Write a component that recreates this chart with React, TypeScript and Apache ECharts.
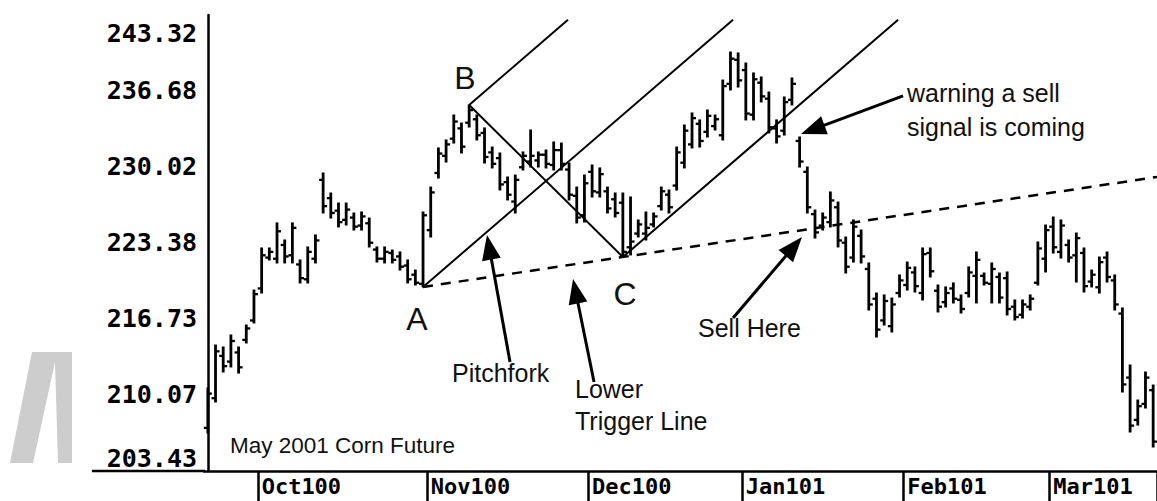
import React, { useEffect, useRef } from "react";
import * as echarts from "echarts";

// ---------- data ----------
const firstTradingDay = "2000-09-21";
const lastTradingDay = "2001-03-20";
const exchangeHolidays = ["2000-11-23", "2000-12-25", "2001-01-01", "2001-01-15", "2001-02-19"];

const monthKeys = ["2000-10", "2000-11", "2000-12", "2001-01", "2001-02", "2001-03"];
const monthLabels = ["Oct100", "Nov100", "Dec100", "Jan101", "Feb101", "Mar101"];

const yTickLabels = ["203.43", "210.07", "216.73", "223.38", "230.02", "236.68", "243.32"];
const yMin = 203.43;
const yMax = 243.32;

const highs = [
  210.69, 214.45, 214.28, 215.33, 214.28, 216.2, 219.26, 222.94, 222.94, 225.13,
  223.64, 225.13, 221.89, 223.03, 224.08, 229.5, 227.75, 226.87, 226.87, 226.0,
  226.09, 225.56, 223.03, 223.03, 222.76, 222.59, 221.89, 221.01, 226.09, 228.27,
  231.69, 232.39, 234.57, 233.87, 235.45, 234.57, 233.44, 231.77, 231.25, 229.15,
  229.32, 231.34, 233.26, 231.34, 231.51, 232.21, 232.12, 230.37, 228.27, 229.32,
  230.2, 229.94, 228.27, 227.75, 227.75, 227.4, 225.39, 226.09, 226.0, 228.27,
  228.01, 231.77, 233.7, 234.75, 234.14, 235.01, 234.57, 237.63, 240.08, 240.0,
  239.12, 238.25, 237.9, 236.58, 234.14, 236.15, 237.81, 232.65, 230.02, 226.26,
  226.0, 227.84, 226.96, 223.9, 225.39, 224.51, 221.63, 219.0, 218.83, 218.56,
  220.58, 221.71, 221.28, 222.94, 222.94, 219.7, 219.53, 219.88, 218.83, 221.28,
  222.59, 220.75, 221.63, 220.75, 220.84, 218.39, 218.39, 218.83, 223.46, 224.95,
  225.65, 225.39, 223.64, 224.25, 222.94, 221.01, 222.15, 222.59, 220.58, 217.69,
  212.7, 209.64, 212.09, 210.95,
];
const lows = [
  206.75, 209.47, 212.09, 212.53, 212.0, 214.63, 216.38, 219.0, 221.89, 221.63,
  221.63, 221.63, 219.88, 219.88, 221.63, 226.0, 225.56, 224.78, 224.95, 224.51,
  224.51, 223.03, 221.71, 221.63, 221.63, 221.01, 219.88, 219.7, 219.53, 223.9,
  229.06, 230.46, 232.12, 231.25, 233.52, 232.39, 230.37, 229.94, 228.01, 227.14,
  226.0, 229.76, 230.02, 230.02, 229.94, 229.76, 229.76, 227.14, 225.13, 225.21,
  227.4, 227.4, 226.0, 225.65, 222.15, 222.33, 223.9, 223.64, 224.78, 226.26,
  226.0, 228.01, 229.94, 231.69, 231.77, 232.65, 233.26, 232.39, 236.76, 237.02,
  234.14, 234.14, 235.71, 233.0, 232.12, 232.82, 235.45, 230.02, 226.0, 223.81,
  224.51, 224.78, 223.03, 220.75, 221.71, 221.63, 217.51, 215.15, 216.2, 215.59,
  218.65, 219.26, 219.09, 218.39, 220.4, 217.34, 217.78, 218.13, 217.25, 218.65,
  218.13, 219.7, 218.13, 218.13, 217.08, 216.64, 216.81, 217.51, 219.7, 220.84,
  222.5, 222.06, 221.71, 219.96, 219.09, 219.53, 219.0, 219.96, 217.51, 210.34,
  206.84, 207.45, 208.94, 205.53,
];
const opens = [
  207.2, 209.8, 213.5, 213.0, 213.8, 214.9, 216.6, 219.4, 222.1, 222.0,
  223.2, 222.3, 221.5, 220.2, 222.0, 228.9, 227.3, 226.2, 225.4, 225.6,
  224.9, 225.1, 222.8, 222.0, 222.5, 222.2, 221.4, 220.6, 219.8, 224.5,
  229.5, 231.0, 232.5, 233.4, 233.9, 234.2, 233.0, 231.3, 230.8, 228.7,
  227.0, 230.0, 230.5, 230.6, 231.1, 230.2, 231.5, 229.8, 227.5, 225.8,
  229.6, 227.8, 227.9, 227.2, 226.9, 223.0, 224.2, 224.2, 225.0, 226.6,
  227.6, 228.4, 230.4, 232.0, 233.8, 233.1, 233.6, 232.8, 237.3, 239.4,
  238.5, 234.6, 237.4, 236.0, 233.4, 233.2, 235.9, 232.3, 229.6, 225.9,
  224.9, 225.2, 226.5, 223.4, 222.1, 224.0, 221.1, 218.5, 216.6, 216.1,
  219.0, 219.7, 220.8, 219.0, 222.5, 219.2, 218.2, 219.4, 218.4, 219.0,
  220.5, 220.5, 219.8, 220.4, 220.3, 217.8, 217.1, 217.8, 219.9, 222.0,
  224.8, 222.6, 223.2, 222.3, 222.5, 220.0, 219.5, 222.1, 220.1, 217.2,
  211.6, 207.9, 209.3, 210.5,
];
const closes = [
  210.2, 213.9, 212.6, 214.8, 212.5, 215.9, 218.9, 222.3, 222.6, 224.4,
  222.2, 224.7, 220.3, 222.6, 223.6, 226.6, 226.0, 225.2, 226.3, 224.8,
  225.7, 223.4, 222.0, 222.6, 221.9, 221.3, 220.2, 219.9, 225.8, 227.8,
  231.2, 232.0, 234.0, 231.8, 235.0, 232.8, 230.9, 230.3, 228.5, 227.6,
  228.9, 231.0, 231.0, 231.1, 230.3, 231.5, 230.3, 227.6, 225.6, 228.6,
  227.9, 229.4, 226.4, 226.0, 222.6, 223.5, 225.0, 224.7, 225.7, 227.9,
  226.5, 231.3, 233.2, 234.3, 232.3, 234.5, 234.2, 237.1, 239.5, 237.6,
  234.7, 237.7, 236.2, 233.5, 232.7, 235.7, 237.3, 230.5, 226.5, 224.3,
  225.6, 227.1, 223.6, 221.3, 224.8, 222.2, 218.0, 215.8, 218.3, 218.0,
  220.1, 221.2, 219.6, 222.4, 220.9, 217.8, 219.0, 218.5, 217.6, 220.8,
  221.9, 219.9, 221.1, 218.6, 217.6, 216.9, 218.0, 218.5, 222.9, 224.5,
  223.0, 224.9, 222.1, 223.8, 219.6, 220.6, 221.7, 220.4, 218.0, 211.0,
  207.4, 209.1, 211.6, 206.0,
];

// Pitchfork pivots A, B, C (bar index, price)
const pivotNames = ["A", "B", "C"];
const pivotIndices = [28, 34, 54];
const pivotPrices = [219.53, 235.45, 222.15];
const tineEndPrice = 242.9;

// Annotation arrows (bar index, price): tail -> tip
const arrowTails = [
  [39.32, 212.97],
  [50.25, 211.22],
  [68.34, 216.81],
  [90.46, 236.24],
];
const arrowTips = [
  [36.32, 224.08],
  [47.52, 220.23],
  [77.31, 223.9],
  [77.18, 232.91],
];

// ---------- helpers ----------
function buildTradingDays(): string[] {
  const out: string[] = [];
  const d = new Date(firstTradingDay + "T00:00:00Z");
  const end = new Date(lastTradingDay + "T00:00:00Z");
  while (d.getTime() <= end.getTime()) {
    const dow = d.getUTCDay();
    const s = d.toISOString().slice(0, 10);
    if (dow !== 0 && dow !== 6 && exchangeHolidays.indexOf(s) < 0) out.push(s);
    d.setUTCDate(d.getUTCDate() + 1);
  }
  return out;
}
const categories = buildTradingDays();

const SANS = "'Liberation Sans', Arial, Helvetica, sans-serif";
const MONO = "'DejaVu Sans Mono', 'Liberation Mono', monospace";

function buildOption(): any {
  const N = categories.length;
  const isMonthStart = (i: number) =>
    i > 0 && categories[i].slice(0, 7) !== categories[i - 1].slice(0, 7);
  const yInterval = (yMax - yMin) / 6 + 0.0001;

  const ohlcData = categories.map((d, i) => [i, opens[i], highs[i], lows[i], closes[i]]);

  const pA = [pivotIndices[0], pivotPrices[0]];
  const pB = [pivotIndices[1], pivotPrices[1]];
  const pC = [pivotIndices[2], pivotPrices[2]];
  const mid = [(pB[0] + pC[0]) / 2, (pB[1] + pC[1]) / 2];
  const slope = (mid[1] - pA[1]) / (mid[0] - pA[0]);
  const tineEnd = (p: number[]) => [p[0] + (tineEndPrice - p[1]) / slope, tineEndPrice];
  const trigSlope = (pC[1] - pA[1]) / (pC[0] - pA[0]);
  const xEnd = N - 0.5;
  const trigEnd = [xEnd, pA[1] + trigSlope * (xEnd - pA[0])];

  const lineSeries = (data: number[][], dashed = false, width = 2) => ({
    type: "line",
    xAxisIndex: 1,
    yAxisIndex: 0,
    data,
    symbol: "none",
    showSymbol: false,
    silent: true,
    clip: false,
    z: 3,
    lineStyle: { color: "#000", width, type: dashed ? [10, 8] : "solid", cap: "butt" },
  });

  const yLabelStyle = { fontFamily: MONO, fontWeight: "bold", fontSize: 25, color: "#000" };

  const textEl = (text: string, x: number, y: number, size: number, align = "left") => ({
    type: "text",
    x,
    y,
    z: 10,
    style: {
      text,
      fontSize: size,
      fontFamily: SANS,
      fill: "#111",
      align,
      textAlign: align,
      verticalAlign: "middle",
      textVerticalAlign: "middle",
    },
  });

  return {
    animation: false,
    backgroundColor: "#ffffff",
    grid: { left: 204, right: 0, top: 15, bottom: 30, containLabel: false, outerBoundsMode: "none" },
    xAxis: [
      {
        type: "category",
        data: categories,
        boundaryGap: true,
        axisLine: { show: true, lineStyle: { color: "#000", width: 2.5 } },
        axisTick: {
          show: true,
          interval: (i: number) => isMonthStart(i),
          length: 30,
          lineStyle: { color: "#000", width: 2.5 },
        },
        axisLabel: {
          show: true,
          interval: (i: number) => isMonthStart(i),
          formatter: (v: string) => {
            const k = monthKeys.indexOf(String(v).slice(0, 7));
            return k >= 0 ? monthLabels[k] : "";
          },
          align: "left",
          margin: 4,
          lineHeight: 22,
          fontFamily: MONO,
          fontWeight: "bold",
          fontSize: 22,
          color: "#000",
        },
        splitLine: { show: false },
      },
      { type: "value", min: -0.5, max: N - 0.5, show: false, splitLine: { show: false } },
    ],
    yAxis: {
      type: "value",
      min: yMin,
      max: yMax,
      interval: yInterval,
      offset: 3,
      axisLine: { show: true, lineStyle: { color: "#000", width: 2.5 } },
      axisTick: { show: false },
      splitLine: { show: false },
      axisLabel: {
        margin: 4,
        ...yLabelStyle,
        formatter: (v: number) => {
          const k = Math.max(0, Math.min(6, Math.round((v - yMin) / yInterval)));
          const name = k === 6 ? "top" : k === 0 ? "bot" : "mid";
          return "{" + name + "|" + yTickLabels[k] + "}";
        },
        rich: {
          top: { ...yLabelStyle, padding: [36, 0, 0, 0] },
          bot: { ...yLabelStyle, padding: [0, 0, 26, 0] },
          mid: { ...yLabelStyle },
        },
      },
    },
    graphic: [
      {
        type: "polygon",
        z: -1,
        shape: {
          points: [
            [10, 463],
            [32, 352],
            [72, 352],
            [72, 463],
            [58, 463],
            [55, 362],
            [33, 463],
          ],
        },
        style: { fill: "#cdcdcd" },
      },
      {
        type: "line",
        shape: { x1: 92, y1: 471, x2: 205, y2: 471 },
        style: { stroke: "#000", lineWidth: 2.5 },
      },
      textEl(pivotNames[1], 465, 78, 32, "center"),
      textEl(pivotNames[0], 417, 319, 32, "center"),
      textEl(pivotNames[2], 625, 294, 32, "center"),
      textEl("Pitchfork", 452, 373, 25),
      textEl("Lower", 575, 389, 25),
      textEl("Trigger Line", 575, 421, 25),
      textEl("Sell Here", 698, 328, 25),
      textEl("warning a sell", 907, 93, 25),
      textEl("signal is coming", 907, 127, 25),
      textEl("May 2001 Corn Future", 230, 445, 22.5),
    ],
    series: [
      {
        type: "custom",
        name: "May 2001 Corn Future",
        xAxisIndex: 0,
        yAxisIndex: 0,
        data: ohlcData,
        encode: { x: 0, y: [1, 2, 3, 4] },
        silent: true,
        z: 2,
        renderItem: (params: any, api: any) => {
          const i = api.value(0);
          const o = api.coord([i, api.value(1)]);
          const h = api.coord([i, api.value(2)]);
          const l = api.coord([i, api.value(3)]);
          const c = api.coord([i, api.value(4)]);
          const x = h[0];
          const st = { stroke: "#000", lineWidth: 2.8 };
          const tk = { stroke: "#000", lineWidth: 2.3 };
          return {
            type: "group",
            children: [
              { type: "line", shape: { x1: x, y1: h[1] - 0.5, x2: x, y2: l[1] + 0.5 }, style: st },
              { type: "line", shape: { x1: x - 4, y1: o[1], x2: x, y2: o[1] }, style: tk },
              { type: "line", shape: { x1: x, y1: c[1], x2: x + 4, y2: c[1] }, style: tk },
            ],
          };
        },
      },
      lineSeries([pA, tineEnd(pA)]),
      lineSeries([pB, tineEnd(pB)]),
      lineSeries([pC, tineEnd(pC)]),
      lineSeries([pB, pC]),
      lineSeries([pA, trigEnd], true, 2.5),
      {
        type: "custom",
        xAxisIndex: 1,
        yAxisIndex: 0,
        silent: true,
        clip: false,
        z: 4,
        data: arrowTails.map((t, i) => [t[0], t[1], arrowTips[i][0], arrowTips[i][1]]),
        encode: { x: [0, 2], y: [1, 3] },
        renderItem: (params: any, api: any) => {
          const p1 = api.coord([api.value(0), api.value(1)]);
          const p2 = api.coord([api.value(2), api.value(3)]);
          const dx = p2[0] - p1[0];
          const dy = p2[1] - p1[1];
          const len = Math.sqrt(dx * dx + dy * dy) || 1;
          const ux = dx / len;
          const uy = dy / len;
          const headLen = 25;
          const headHalf = 9.5;
          const bx = p2[0] - ux * headLen;
          const by = p2[1] - uy * headLen;
          return {
            type: "group",
            children: [
              {
                type: "line",
                shape: { x1: p1[0], y1: p1[1], x2: bx + ux * 2, y2: by + uy * 2 },
                style: { stroke: "#000", lineWidth: 3 },
              },
              {
                type: "polygon",
                shape: {
                  points: [
                    [p2[0], p2[1]],
                    [bx - uy * headHalf, by + ux * headHalf],
                    [bx + uy * headHalf, by - ux * headHalf],
                  ],
                },
                style: { fill: "#000" },
              },
            ],
          };
        },
      },
    ],
  };
}

export default function App() {
  const ref = useRef<HTMLDivElement>(null);
  useEffect(() => {
    if (!ref.current) return;
    const chart = echarts.init(ref.current, null, { renderer: "svg" });
    chart.setOption(buildOption());
    return () => {
      chart.dispose();
    };
  }, []);
  return (
    <div
      ref={ref}
      style={{ position: "absolute", left: 0, top: 0, width: 1157, height: 501, background: "#fff" }}
    />
  );
}
